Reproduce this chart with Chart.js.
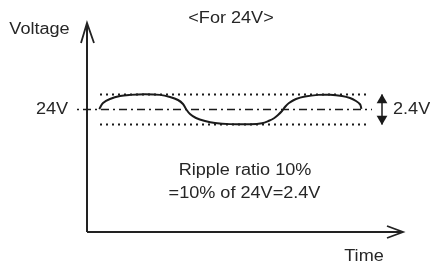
<!DOCTYPE html>
<html><head><meta charset="utf-8">
<script src="https://cdn.jsdelivr.net/npm/chart.js@4.4.0/dist/chart.umd.min.js"></script>
<style>html,body{margin:0;padding:0;background:#fff}#wrap{width:430px;height:261px}</style>
</head><body><div id="wrap"><canvas id="c" width="430" height="261"></canvas></div>
<script>
// ---- data (time in arbitrary units, voltage in V) ----
const NOMINAL_V = 24;
const RIPPLE_V = 2.4;
const UPPER_V = NOMINAL_V + RIPPLE_V / 2;   // 25.2
const LOWER_V = NOMINAL_V - RIPPLE_V / 2;   // 22.8
const AXIS_V = 14.2;                        // voltage where the time axis sits
const rippleTime = [12.5, 13, 16, 23, 33, 43, 58, 73, 83, 91, 96, 99, 103, 109, 118, 128, 143, 163, 175, 182, 187, 191, 195, 198, 202, 209, 218, 231, 243, 255, 263, 269, 273, 274, 274.3];
const rippleVolt = [24.02, 24.15, 24.52, 24.84, 25.08, 25.17, 25.22, 25.17, 25.0, 24.76, 24.44, 24.04, 23.64, 23.32, 23.08, 22.92, 22.83, 22.82, 22.9, 23.1, 23.3, 23.56, 23.88, 24.2, 24.52, 24.84, 25.04, 25.17, 25.18, 25.08, 24.92, 24.68, 24.42, 24.2, 24.05];
const boundTime = [13, 280];
const centerTime = [-10, 285];
const yAxisTime = [0, 0];
const yAxisVolt = [AXIS_V, 30.92];
const xAxisTime = [0, 316];
const yArrowTime = [-6, 0, 7];
const yArrowVolt = [29.32, 30.92, 29.32];
const xArrowTime = [300, 316, 300];
const xArrowVolt = [14.68, AXIS_V, 13.72];
const spanTime = [295, 295];
const spanVolt = [UPPER_V, LOWER_V];
const spanHeadVolt = [24.74, 23.26];
const labels = {
  title: '<For 24V>', yName: 'Voltage', xName: 'Time',
  nominal: '24V', span: '2.4V',
  note1: 'Ripple ratio 10%', note2: '=10% of 24V=2.4V'
};

const pts = (xs, ys) => xs.map((x, i) => ({x, y: ys[i]}));
const ink = '#1a1a1a';

const textPlugin = {
  id: 'texts',
  afterDatasetsDraw(chart) {
    const {ctx, scales: {x, y}} = chart;
    const put = (txt, t, v, align) => {
      const px = x.getPixelForValue(t), py = y.getPixelForValue(v);
      ctx.save();
      ctx.font = '16px "Liberation Sans", Arial, sans-serif';
      ctx.fillStyle = '#262626';
      ctx.textBaseline = 'middle';
      ctx.textAlign = align;
      ctx.translate(px, py);
      ctx.scale(1.13, 1);
      ctx.fillText(txt, 0, 0);
      ctx.restore();
    };
    put(labels.title, 144, 31.3, 'center');
    put(labels.yName, -47.5, 30.4, 'center');
    put(labels.nominal, -35, NOMINAL_V, 'center');
    put(labels.span, 306, NOMINAL_V, 'left');
    put(labels.note1, 158, 19.15, 'center');
    put(labels.note2, 157.5, 17.3, 'center');
    put(labels.xName, 277, 12.25, 'center');
  }
};

const line = (data, extra) => Object.assign({
  data, borderColor: ink, borderWidth: 2, pointRadius: 0, fill: false, tension: 0
}, extra || {});

new Chart(document.getElementById('c'), {
  type: 'scatter',
  data: {
    datasets: [
      line(pts(rippleTime, rippleVolt), {borderWidth: 2, tension: 0.35, showLine: true}),
      line(pts(boundTime, [UPPER_V, UPPER_V]), {borderWidth: 1.8, borderDash: [2, 4], showLine: true}),
      line(pts(boundTime, [LOWER_V, LOWER_V]), {borderWidth: 1.8, borderDash: [2, 4], showLine: true}),
      line(pts(centerTime, [NOMINAL_V, NOMINAL_V]), {borderWidth: 1.6, borderDash: [8, 4, 2, 4], borderDashOffset: 12, showLine: true}),
      line(pts(yAxisTime, yAxisVolt), {borderWidth: 2, showLine: true, borderColor: '#222'}),
      line(pts(xAxisTime, [AXIS_V, AXIS_V]), {borderWidth: 2, showLine: true, borderColor: '#222'}),
      line(pts(yArrowTime, yArrowVolt), {borderWidth: 1.8, showLine: true, borderColor: '#222'}),
      line(pts(xArrowTime, xArrowVolt), {borderWidth: 1.8, showLine: true, borderColor: '#222'}),
      line(pts(spanTime, spanVolt), {borderWidth: 1.5, showLine: true}),
      {data: pts(spanTime, spanHeadVolt), showLine: false, pointStyle: 'triangle', pointRadius: 6.2,
       rotation: [0, 180], backgroundColor: ink, borderColor: ink, borderWidth: 0}
    ]
  },
  options: {
    responsive: false, animation: false, events: [],
    layout: {padding: 0, autoPadding: false},
    plugins: {legend: {display: false}, tooltip: {enabled: false}},
    scales: {
      x: {type: 'linear', display: false, min: -87, max: 343},
      y: {type: 'linear', display: false, min: 11.88, max: 32.76}
    }
  },
  plugins: [textPlugin]
});
</script></body></html>
